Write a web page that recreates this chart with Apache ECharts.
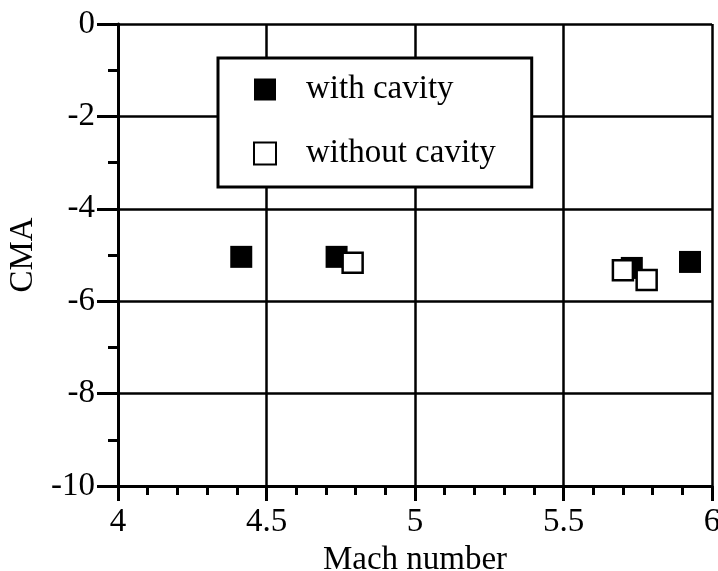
<!DOCTYPE html>
<html>
<head>
<meta charset="utf-8">
<script src="https://cdn.jsdelivr.net/npm/echarts@6/dist/echarts.min.js"></script>
<style>
  html, body { margin: 0; padding: 0; background: #fff; }
  #chart { width: 718px; height: 571px; }
</style>
</head>
<body>
<div id="chart"></div>
<script>
// data: [Mach number, CMA]
const withCavity = [[4.415, -5.04], [4.736, -5.04], [5.73, -5.28], [5.926, -5.15]]
const withoutCavity = [[4.79, -5.17], [5.70, -5.33], [5.78, -5.54]]
const seriesNames = ['with cavity', 'without cavity']

const font = 'Liberation Serif'
const fs = 33
const chart = echarts.init(document.getElementById('chart'))

const option = {
  backgroundColor: '#fff',
  animation: false,
  grid: {
    left: 118,
    right: 6,
    top: 24,
    bottom: 85,
    containLabel: false,
    outerBoundsMode: 'none'
  },
  legend: {
    data: seriesNames,
    orient: 'vertical',
    left: 218,
    top: 58,
    itemWidth: 22,
    itemHeight: 22,
    itemGap: 31,
    padding: [15, 36, 17, 35],
    borderColor: '#000',
    borderWidth: 3,
    backgroundColor: '#fff',
    textStyle: {
      fontFamily: font,
      fontSize: fs,
      color: '#000',
      padding: [0, 0, 0, 25]
    }
  },
  xAxis: {
    type: 'value',
    min: 4,
    max: 6,
    interval: 0.5,
    name: 'Mach number',
    nameLocation: 'middle',
    nameGap: 50,
    nameTextStyle: { fontFamily: font, fontSize: fs, color: '#000' },
    axisLine: { show: true, onZero: false, lineStyle: { color: '#000', width: 3 } },
    axisTick: { show: true, length: 15, lineStyle: { color: '#000', width: 3 } },
    minorTick: { show: true, splitNumber: 5, length: 9, lineStyle: { color: '#000', width: 3 } },
    axisLabel: { fontFamily: font, fontSize: fs, color: '#000', margin: 20 },
    splitLine: { show: true, lineStyle: { color: '#000', width: 2.5 } }
  },
  yAxis: {
    type: 'value',
    min: -10,
    max: 0,
    interval: 2,
    name: 'CMA',
    nameLocation: 'middle',
    nameGap: 77,
    nameTextStyle: { fontFamily: font, fontSize: fs, color: '#000' },
    axisLine: { show: true, onZero: false, lineStyle: { color: '#000', width: 3 } },
    axisTick: { show: true, length: 21, lineStyle: { color: '#000', width: 3 } },
    minorTick: { show: true, splitNumber: 2, length: 10, lineStyle: { color: '#000', width: 3 } },
    axisLabel: { fontFamily: font, fontSize: fs, color: '#000', margin: 23 },
    splitLine: { show: true, lineStyle: { color: '#000', width: 2.5 } }
  },
  series: [
    {
      name: seriesNames[1],
      type: 'scatter',
      symbol: 'rect',
      symbolSize: 20,
      data: withoutCavity,
      itemStyle: { color: '#fff', borderColor: '#000', borderWidth: 2.5, opacity: 1 },
      z: 3
    },
    {
      name: seriesNames[0],
      type: 'scatter',
      symbol: 'rect',
      symbolSize: 22,
      data: withCavity,
      itemStyle: { color: '#000', borderColor: '#000', borderWidth: 0, opacity: 1 },
      z: 2
    }
  ]
}

chart.setOption(option)
</script>
</body>
</html>
